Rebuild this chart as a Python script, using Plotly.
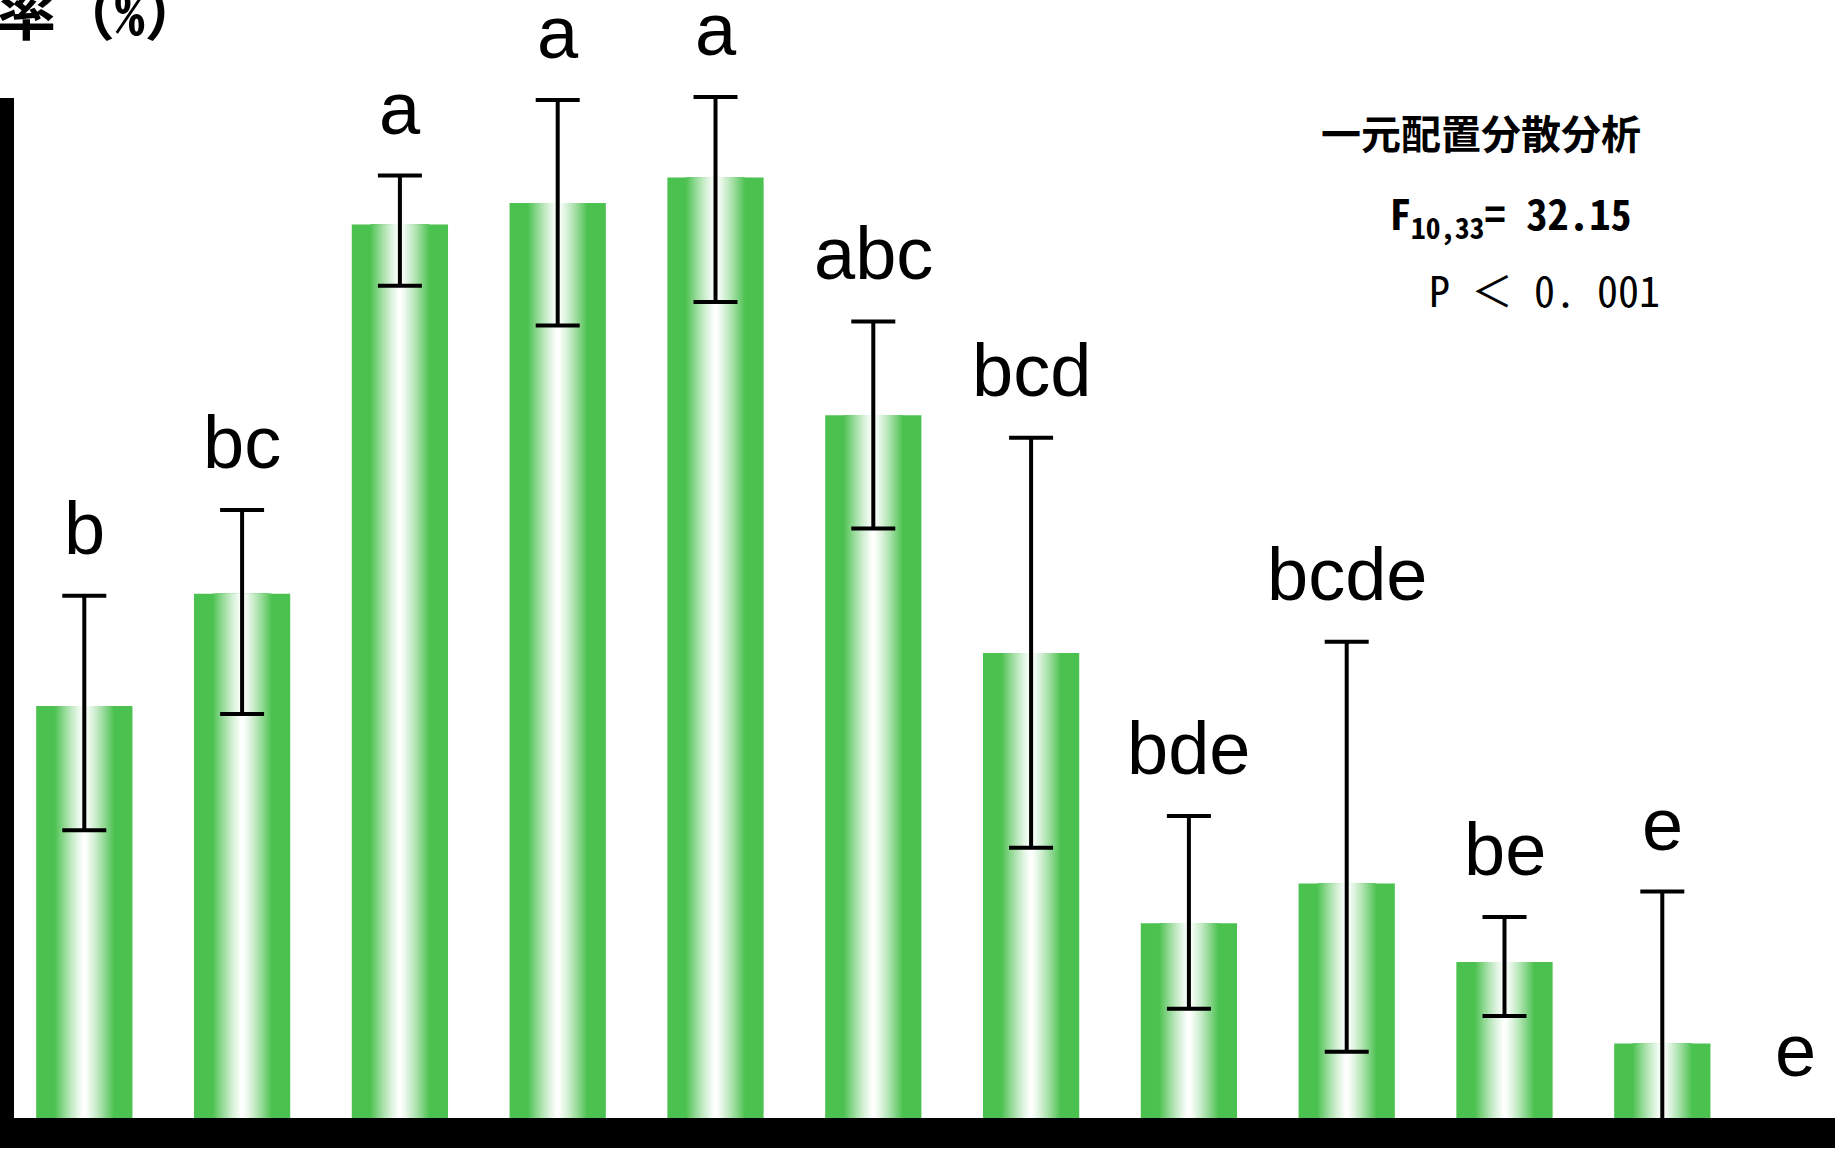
import plotly.graph_objects as go

# ---- data -------------------------------------------------------------
groups = list(range(1, 13))
rate = [40.4, 51.4, 87.6, 89.7, 92.2, 68.9, 45.6, 19.1, 23.0, 15.3, 7.3, 0.0]
err_plus = [10.8, 8.2, 4.8, 10.1, 7.9, 9.2, 21.1, 10.5, 23.7, 4.4, 14.9, None]
err_minus = [12.2, 11.8, 6.0, 12.0, 12.2, 11.1, 19.1, 8.4, 16.5, 5.3, 14.9, None]
letters = ["b", "bc", "a", "a", "a", "abc", "bcd", "bde", "bcde", "be", "e", "e"]

anova_title = "一元配置分散分析"
anova_f = "F<sub>10,33</sub>= 32.15"
anova_p = "P ＜ 0. 001"
y_title = "率（%）"

# ---- canvas geometry ---------------------------------------------------
W, H = 1842, 1160
MB = 42                    # bottom margin (below the zero line)
PH = H - MB                # plot-area height in px
PX_PER_UNIT = 10.2         # vertical scale: px per percent
BAR_W = 0.61

GREEN = (75, 193, 79)
MONO_JP = "Noto Sans Mono CJK JP, Noto Sans CJK JP, Liberation Mono"


def mix(f):
    """Blend white -> green by factor f (0 = white, 1 = green)."""
    r, g, b = (round(255 + (c - 255) * f) for c in GREEN)
    return f"rgb({r},{g},{b})"


def px_x(px):
    return px / W


def px_y(px):
    return (PH - px) / PH


fig = go.Figure()

# base bar in solid green
fig.add_trace(go.Bar(x=groups, y=rate, width=BAR_W, marker_color=mix(1.0),
                     marker_line_width=0, hoverinfo="skip"))

# stacked narrower layers give the green->white->green sheen across each bar
EDGE = 0.62
N = 30
for k in range(N):
    d_out = EDGE * (1 - k / N)
    d_in = EDGE * (1 - (k + 1) / N)
    t = 0.5 * (d_out + d_in) / EDGE
    f = min(1.0, t) ** 1.25
    fig.add_trace(go.Bar(
        x=groups, y=rate, width=BAR_W * d_out,
        marker_color=mix(f), marker_line_width=0, hoverinfo="skip",
    ))

# error bars (only for groups that have a spread)
idx = [i for i, e in enumerate(err_plus) if e is not None]
fig.add_trace(go.Bar(
    x=[groups[i] for i in idx], y=[rate[i] for i in idx], width=BAR_W,
    marker_color="rgba(0,0,0,0)", marker_line_width=0, hoverinfo="skip",
    error_y=dict(type="data", symmetric=False,
                 array=[err_plus[i] for i in idx],
                 arrayminus=[err_minus[i] for i in idx],
                 color="black", thickness=4, width=22),
))

# significance letters above each error bar
for i, (g, v, e, lab) in enumerate(zip(groups, rate, err_plus, letters)):
    top = v + (e or 0)
    fig.add_annotation(x=g, y=top, xref="x", yref="y", text=lab,
                       showarrow=False, yanchor="bottom", yshift=24,
                       xshift=-25 if i == len(groups) - 1 else 0,
                       font=dict(family="Liberation Sans, Arial", size=74,
                                 color="black"))

# ANOVA summary
fig.add_annotation(x=px_x(1481), y=px_y(132), xref="paper", yref="paper",
                   text=f"<b>{anova_title}</b>", showarrow=False,
                   xanchor="center", yanchor="middle",
                   font=dict(family="Noto Sans CJK JP", size=40, color="black"))
fig.add_annotation(x=px_x(1388), y=px_y(214), xref="paper", yref="paper",
                   text=f"<b>{anova_f}</b>", showarrow=False, xanchor="left",
                   yanchor="middle",
                   font=dict(family=MONO_JP, size=42, color="black"))
fig.add_annotation(x=px_x(1662), y=px_y(288), xref="paper", yref="paper",
                   text=anova_p, showarrow=False, xanchor="right",
                   yanchor="middle",
                   font=dict(family=MONO_JP, size=42, color="black"))

# axis title, running off the top-left corner
fig.add_annotation(x=px_x(-5), y=px_y(9), xref="paper", yref="paper",
                   text=f"<b>{y_title}</b>", showarrow=False,
                   xanchor="left", yanchor="middle",
                   font=dict(family=MONO_JP, size=59, color="black"))

# heavy black axis lines
fig.add_shape(type="rect", xref="paper", yref="paper", layer="above",
              x0=0, x1=px_x(14), y0=px_y(1148), y1=px_y(98),
              fillcolor="black", line_width=0)
fig.add_shape(type="rect", xref="paper", yref="paper", layer="above",
              x0=0, x1=px_x(1835), y0=px_y(1148), y1=px_y(1118),
              fillcolor="black", line_width=0)

x0 = 1 - 84.3 / 157.8
fig.update_layout(
    width=W, height=H,
    margin=dict(l=0, r=0, t=0, b=MB, pad=0),
    barmode="overlay",
    showlegend=False,
    paper_bgcolor="white", plot_bgcolor="white",
    xaxis=dict(range=[x0, x0 + W / 157.8], visible=False, fixedrange=True),
    yaxis=dict(range=[0, PH / PX_PER_UNIT], visible=False, fixedrange=True),
)

fig.write_html("out.html", config={"displayModeBar": False})
